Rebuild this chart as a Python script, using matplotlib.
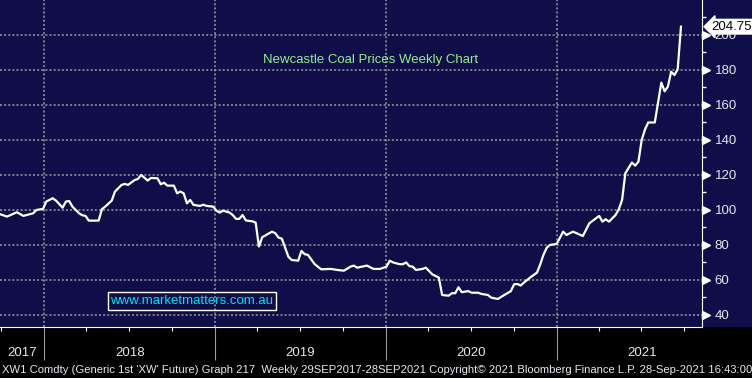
import numpy as np
import pandas as pd
import matplotlib
matplotlib.use("Agg")
import matplotlib.pyplot as plt
import matplotlib.dates as mdates
import matplotlib.transforms as mtransforms
from matplotlib.patches import Rectangle

# weeks since 29 Sep 2017 and Newcastle coal front-month price (USD/t)
weeks = [0, 2, 5, 7, 10, 11, 13, 14, 16, 17, 19, 20, 21, 22, 24, 25, 26, 27, 30, 31,
         32, 34, 35, 37, 38, 39, 41, 42, 43, 45, 46, 48, 49, 50, 51, 53, 54, 55, 56, 57,
         58, 59, 61, 62, 63, 65, 66, 67, 68, 70, 71, 72, 73, 74, 75, 77, 78, 79, 80, 81,
         83, 84, 85, 86, 88, 89, 91, 92, 93, 94, 96, 98, 101, 103, 105, 107, 108, 109, 112, 114,
         116, 118, 119, 120, 122, 123, 124, 125, 126, 127, 129, 130, 131, 132, 134, 135, 137, 138, 139, 140,
         141, 143, 144, 146, 147, 149, 150, 152, 154, 156, 157, 158, 159, 160, 162, 164, 165, 166, 167, 168,
         170, 172, 173, 175, 178, 180, 183, 184, 185, 186, 188, 189, 190, 191, 193, 194, 195, 196, 197, 198,
         200, 202, 203, 204, 205, 206, 207, 208]
price = [97.5, 96.2, 98.7, 96.6, 98.1, 100.0, 100.6, 104.8, 106.7, 105.3, 101.3, 104.8, 105.1, 101.9, 98.1, 97.0, 96.6, 93.9, 93.9, 100.4,
         101.9, 105.3, 110.5, 114.3, 114.9, 114.3, 117.1, 117.7, 120.0, 116.8, 118.3, 118.1, 114.7, 115.6, 113.9, 113.9, 109.5, 110.5, 109.5, 103.8,
         105.7, 102.9, 102.3, 103.0, 102.3, 101.9, 99.6, 98.5, 99.6, 98.5, 97.1, 94.9, 94.9, 97.1, 94.0, 93.5, 92.8, 79.1, 84.4, 85.5,
         87.6, 86.7, 84.2, 83.6, 73.3, 71.4, 71.0, 76.6, 74.7, 74.3, 69.1, 66.1, 66.3, 65.7, 65.3, 67.6, 68.2, 67.0, 68.2, 66.3,
         66.3, 67.6, 71.0, 70.0, 69.0, 69.0, 70.0, 67.9, 67.6, 65.7, 66.3, 67.0, 65.1, 63.2, 61.3, 51.4, 51.0, 52.4, 52.4, 55.8,
         53.0, 53.6, 52.7, 52.7, 52.0, 51.4, 49.9, 49.1, 51.4, 53.6, 57.5, 57.7, 56.8, 58.5, 61.5, 64.2, 69.0, 74.5, 78.5, 80.0,
         80.6, 87.6, 85.7, 87.6, 85.1, 92.4, 96.6, 93.3, 94.7, 93.3, 97.1, 100.4, 105.7, 121.0, 127.1, 125.3, 127.6, 140.0, 146.0, 150.0,
         150.0, 172.8, 167.8, 170.5, 179.0, 177.1, 180.4, 204.75]
last_price = 204.75
y_ticks = [40, 60, 80, 100, 120, 140, 160, 180, 200]
year_labels = ["2017", "2018", "2019", "2020", "2021"]

start = pd.Timestamp("2017-09-29")
dates = start + pd.to_timedelta(np.array(weeks) * 7, unit="D")

navy = "#100e48"
grid_c = "#9c9c9c"
txt_c = "#e6e6f0"
plt.rcParams["font.family"] = ["Liberation Sans", "DejaVu Sans"]

W, H = 752, 378
fig = plt.figure(figsize=(W / 100, H / 100), dpi=100, facecolor="black")
# navy strip behind the right price axis
fig.patches.append(Rectangle((702 / W, 51 / H), 50 / W, 327 / H, transform=fig.transFigure,
                             facecolor=navy, edgecolor="none", zorder=-5))
ax = fig.add_axes([0, 51 / H, 702 / W, 327 / H])
ax.set_facecolor(navy)
ax.set_zorder(2)

ax.plot(dates, price, color="white", lw=1.6, zorder=3)

ax.set_ylim(33.1, 220)
ax.set_xlim(start - pd.Timedelta(days=1), start + pd.Timedelta(days=1501))

# grid
for y in y_ticks:
    ax.axhline(y, color=grid_c, lw=1.1, ls=(0, (1.3, 1.4)), zorder=1)
year_starts = [pd.Timestamp(f"{y}-01-01") for y in (2018, 2019, 2020, 2021)]
for d in year_starts:
    ax.axvline(d, color=grid_c, lw=1.1, ls=(0, (1.3, 1.4)), zorder=1)

# spines
for s in ("left", "top"):
    ax.spines[s].set_visible(False)
ax.spines["right"].set_color("white")
ax.spines["bottom"].set_color("white")

# y axis on the right
ax.yaxis.tick_right()
ax.set_yticks(y_ticks)
ax.set_yticks(np.arange(50, 220, 20), minor=True)
ax.tick_params(axis="y", which="major", length=0, pad=9, labelsize=9.5, labelcolor=txt_c)
ax.tick_params(axis="y", which="minor", length=3, width=1, color="white", direction="out")
tri_tr = mtransforms.offset_copy(mtransforms.blended_transform_factory(ax.transAxes, ax.transData),
                                 fig=fig, x=3.2, y=0, units="points")
ax.plot([1] * len(y_ticks), y_ticks, ls="none", marker=">", ms=5.5, color="white",
        transform=tri_tr, clip_on=False, zorder=5)

# x axis: year separators and quarterly ticks
ax.xaxis.set_major_locator(mdates.YearLocator())
ax.xaxis.set_minor_locator(mdates.MonthLocator(bymonth=[4, 7, 10]))
ax.xaxis.set_major_formatter(plt.NullFormatter())
ax.tick_params(axis="x", which="major", length=24, width=0.8, color=grid_c, direction="out")
ax.tick_params(axis="x", which="minor", length=3, width=0.8, color="white", direction="out")

xmin = mdates.num2date(ax.get_xlim()[0]).replace(tzinfo=None)
bounds = [pd.Timestamp(xmin)] + year_starts
label_tr = mtransforms.blended_transform_factory(ax.transData, fig.transFigure)
for i, lab in enumerate(year_labels):
    if lab == "2021":
        mid = pd.Timestamp("2021-07-02")
    else:
        mid = bounds[i] + (bounds[i + 1] - bounds[i]) / 2
    ax.text(mid, 1 - 353 / H, lab, transform=label_tr, ha="center", va="center",
            color=txt_c, fontsize=9.5)

# last price tag
tag_tr = mtransforms.blended_transform_factory(ax.transAxes, ax.transData)
ax.annotate(f"{last_price:.2f}", xy=(1, last_price), xycoords=tag_tr,
            xytext=(7, 0), textcoords="offset points", ha="left", va="center",
            fontsize=9.5, color="black", annotation_clip=False, zorder=6,
            bbox=dict(boxstyle="larrow,pad=0.1", fc="white", ec="white"))

fig.text(371 / W, 1 - 60 / H, "Newcastle Coal Prices Weekly Chart", color="#8ef08e",
         fontsize=9.5, ha="center", va="center", zorder=5)
fig.text(192 / W, 1 - 301 / H, "www.marketmatters.com.au", color="#00e0f0",
         fontsize=9.5, ha="center", va="center", zorder=5,
         bbox=dict(boxstyle="square,pad=0.2", fc="none", ec="white", lw=1))

fig.text(2 / W, 1 - 370 / H,
         "XW1 Comdty (Generic 1st 'XW' Future) Graph 217  Weekly 29SEP2017-28SEP2021 "
         "Copyright\u00a9 2021 Bloomberg Finance L.P. 28-Sep-2021 16:43:00",
         color=txt_c, fontsize=8.1, ha="left", va="center")

fig.savefig("out.png", dpi=100, facecolor="black")
